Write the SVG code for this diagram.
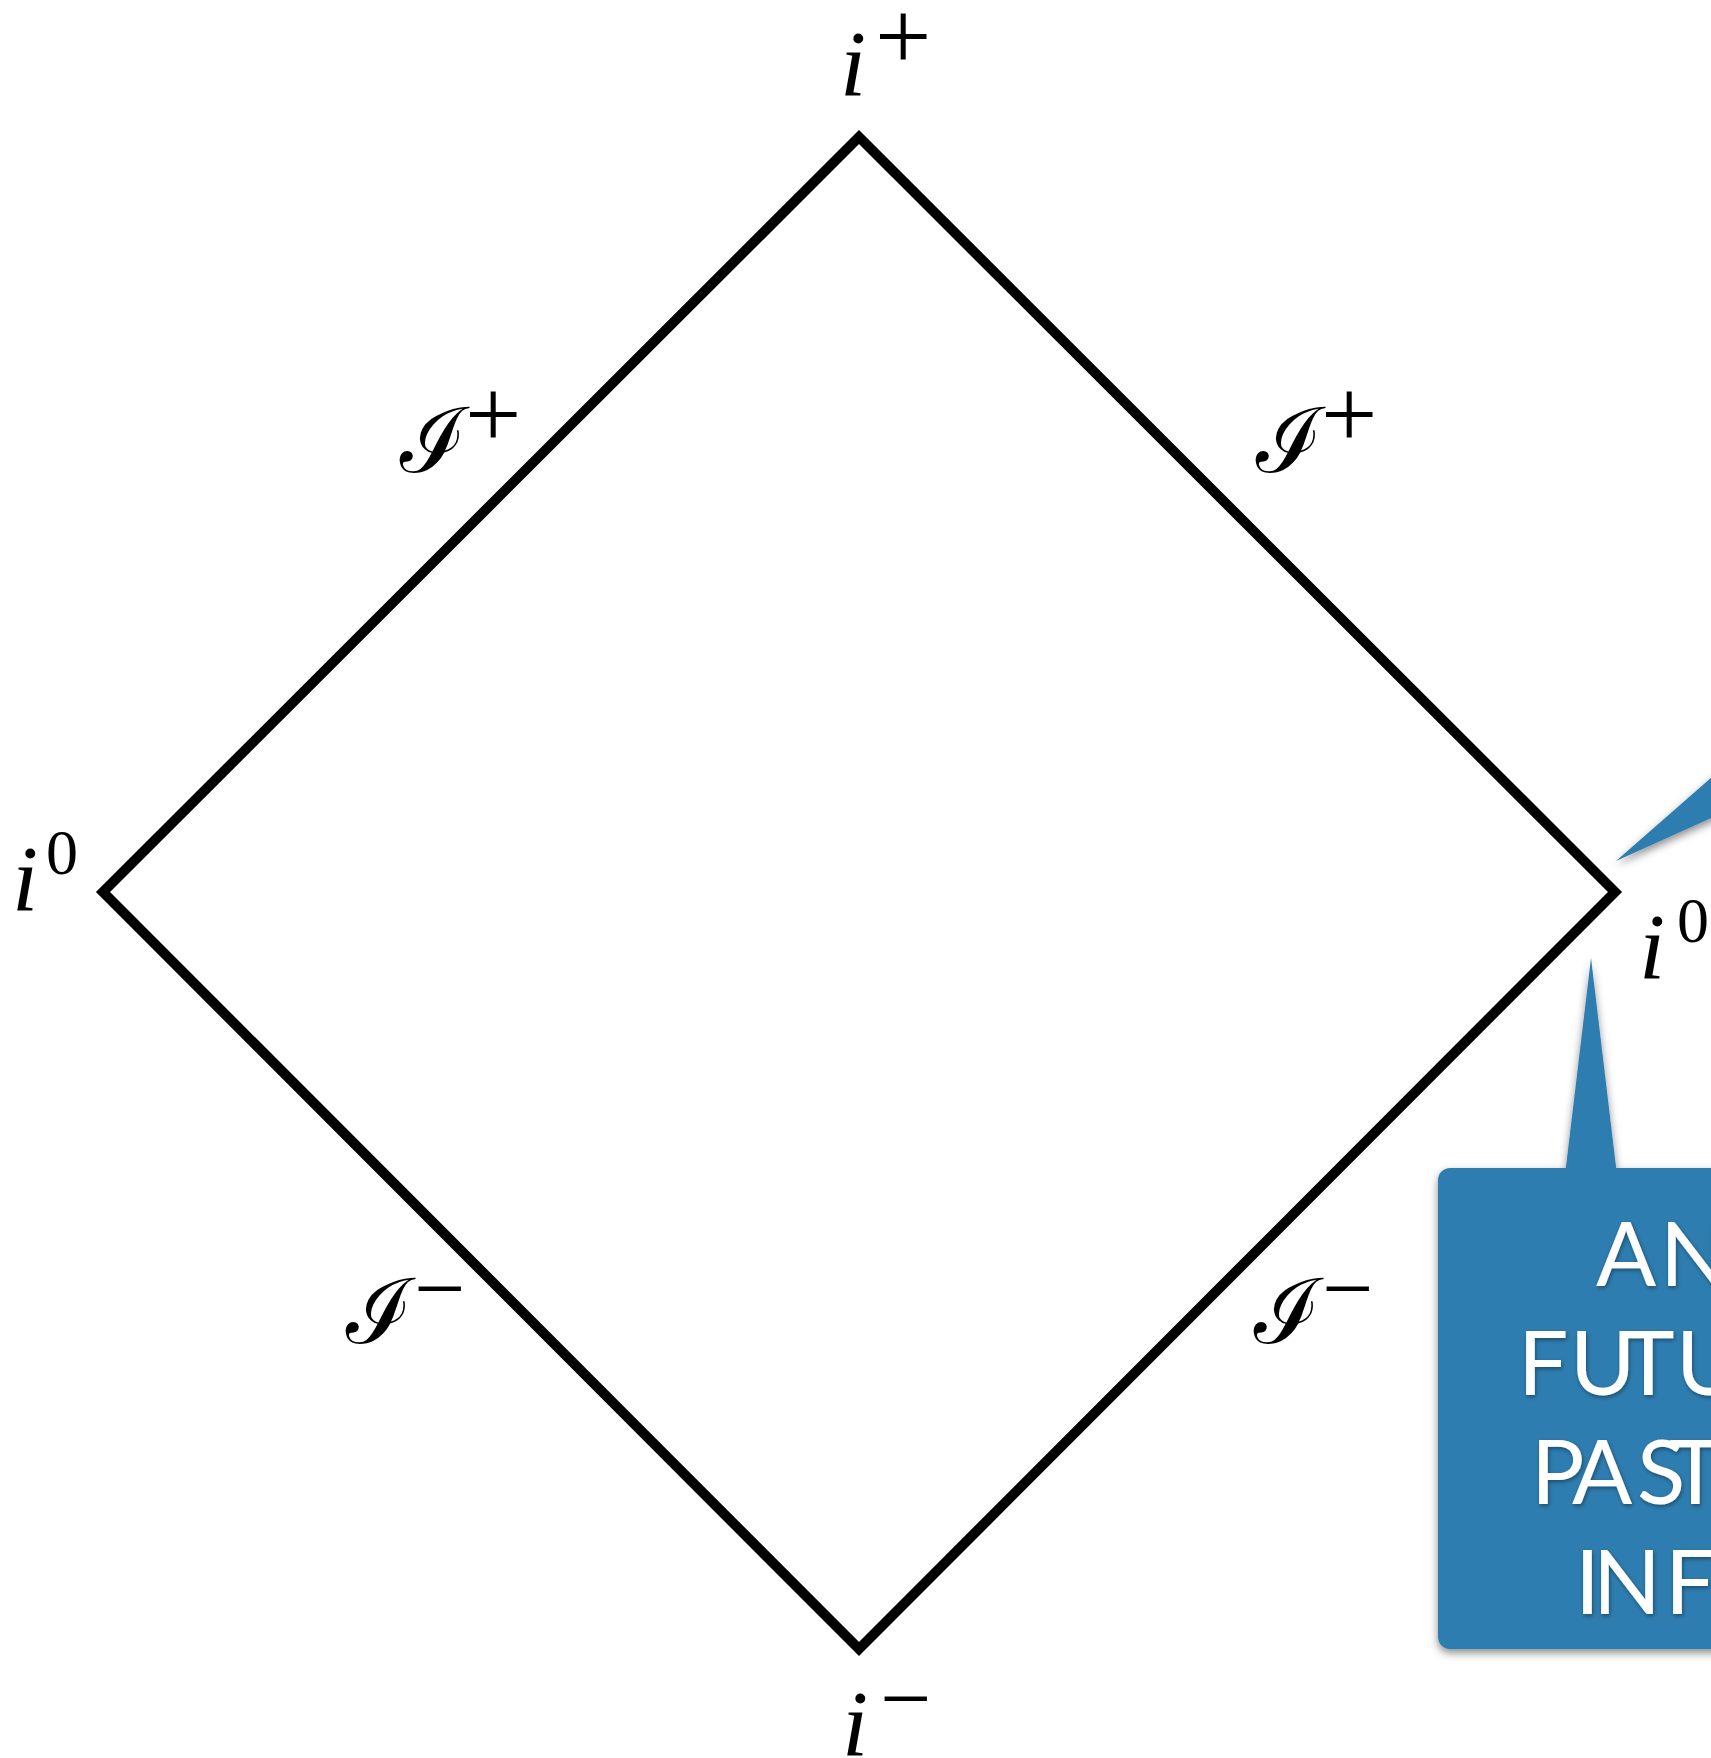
<svg xmlns="http://www.w3.org/2000/svg" width="1711" height="1758" viewBox="0 0 1711 1758">
<style>
  .it { font-family: "Liberation Serif", serif; font-style: italic; font-size: 94px; fill: #000; }
  .rm { font-family: "Liberation Serif", serif; fill: #000; }
  .pl { font-size: 100px; }
  .mi { font-size: 91px; }
  .zr { font-size: 64px; }
  .cal { font-family: "Liberation Serif", serif; font-size: 90px; fill: #000; }
  .call { fill: #2f7db0; }
  .ct { font-family: Lato, "Open Sans", sans-serif; font-size: 89px; fill: #ffffff; }
</style>
<defs>
  <filter id="sh" x="-20%" y="-20%" width="140%" height="140%">
    <feDropShadow dx="0" dy="4" stdDeviation="4" flood-color="#000" flood-opacity="0.45"/>
  </filter>
  <filter id="tsh" x="-20%" y="-20%" width="140%" height="140%">
    <feDropShadow dx="1" dy="2" stdDeviation="2" flood-color="#000" flood-opacity="0.4"/>
  </filter>
</defs>
<rect width="1711" height="1758" fill="#ffffff"/>

<g id="diagram-edges">
  <polygon points="859,137 1615,892 859,1649 103,892" fill="none" stroke="#000" stroke-width="10" stroke-linejoin="miter"/>
</g>

<g id="label-i-plus">
  <text class="it" x="840" y="95">i</text>
  <text class="rm pl" x="875" y="70">+</text>
</g>
<g id="label-i-minus">
  <text class="it" x="842" y="1755">i</text>
  <text class="rm mi" x="880" y="1729">−</text>
</g>
<g id="label-i0-left">
  <text class="it" x="12" y="910">i</text>
  <text class="rm zr" x="46" y="874">0</text>
</g>
<g id="label-i0-right">
  <text class="it" x="1639" y="978">i</text>
  <text class="rm zr" x="1677" y="942">0</text>
</g>
<g id="label-scri-plus-left">
  <text class="cal" x="400" y="472">ℐ</text>
  <text class="rm pl" x="465" y="448">+</text>
</g>
<g id="label-scri-plus-right">
  <text class="cal" x="1256" y="472">ℐ</text>
  <text class="rm pl" x="1321" y="448">+</text>
</g>
<g id="label-scri-minus-left">
  <text class="cal" x="346" y="1343">ℐ</text>
  <text class="rm mi" x="414" y="1319">−</text>
</g>
<g id="label-scri-minus-right">
  <text class="cal" x="1254" y="1343">ℐ</text>
  <text class="rm mi" x="1322" y="1319">−</text>
</g>

<g id="callout-upper" filter="url(#sh)">
  <polygon class="call" points="1616,861 1800,700 1800,778"/>
</g>
<g id="callout-box" filter="url(#sh)">
  <polygon class="call" points="1591,958 1617,1175 1565,1175"/>
  <rect class="call" x="1438" y="1168" width="420" height="481" rx="12"/>
</g>
<g id="callout-text" filter="url(#tsh)">
  <text class="ct" x="1596 1660" y="1286">AN</text>
  <text class="ct" x="1518 1570 1622 1676" y="1395">FUTU</text>
  <text class="ct" x="1531 1572 1637 1669" y="1504">PAST</text>
  <text class="ct" x="1575 1593 1665" y="1614">INF</text>
</g>
</svg>
